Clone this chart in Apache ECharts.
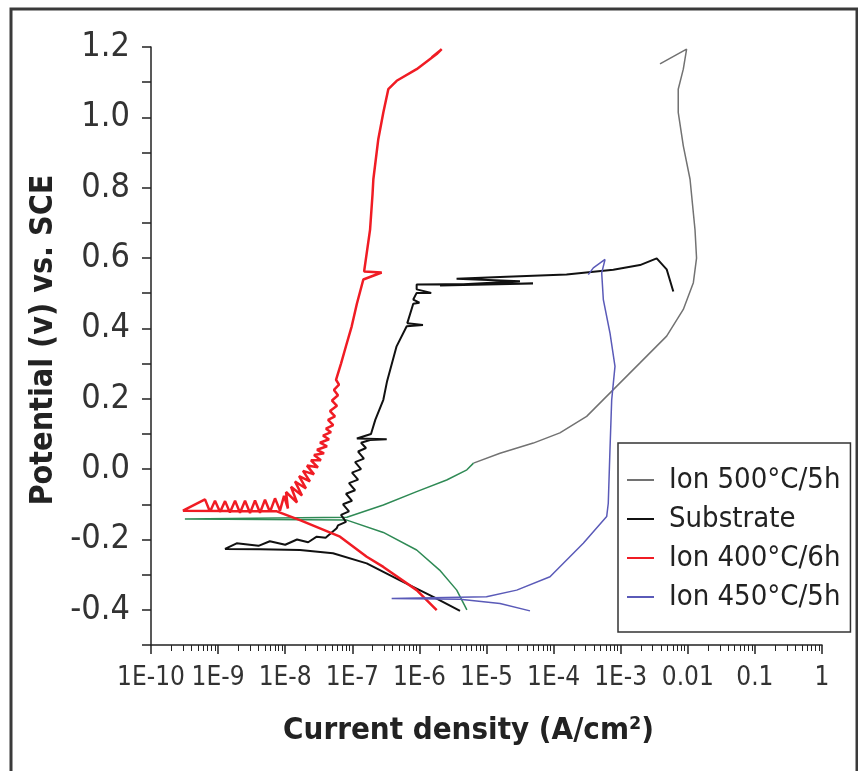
<!DOCTYPE html>
<html>
<head>
<meta charset="utf-8">
<script src="https://cdn.jsdelivr.net/npm/echarts@6/dist/echarts.min.js"></script>
<style>
html,body{margin:0;padding:0;background:#fff;}
#chart{width:858px;height:771px;}
</style>
</head>
<body>
<div id="chart"></div>
<script>
// ---- data: [current density (A/cm2), potential (V vs SCE)] ----
const xTickValues = [1e-10,1e-9,1e-8,1e-7,1e-6,1e-5,1e-4,1e-3,1e-2,1e-1,1];
const xTickLabels = ['1E-10','1E-9','1E-8','1E-7','1E-6','1E-5','1E-4','1E-3','0.01','0.1','1'];
const seriesNames = ['Ion 500°C/5h','Substrate','Ion 400°C/6h','Ion 450°C/5h'];

const ion500Lower = [
  [5.1e-6,-0.40],[3.6e-6,-0.344],[2.0e-6,-0.287],[9.1e-7,-0.23],[2.9e-7,-0.18],
  [8.3e-8,-0.145],[3.2e-10,-0.142],[8.3e-8,-0.137],[2.9e-7,-0.102],[9.1e-7,-0.064],
  [2.55e-6,-0.031],[5.1e-6,-0.002],[6.4e-6,0.017]
];
const ion500Upper = [
  [6.4e-6,0.017],[1.59e-5,0.045],[4.98e-5,0.074],[1.24e-4,0.103],[3.11e-4,0.150],
  [7.76e-4,0.226],[1.94e-3,0.302],[4.84e-3,0.378],[8.57e-3,0.454],[1.21e-2,0.530],
  [1.35e-2,0.600],[1.28e-2,0.681],[1.08e-2,0.824],[8.57e-3,0.919],[7.2e-3,1.014],
  [7.2e-3,1.080],[8.57e-3,1.137],[9.6e-3,1.194],[3.85e-3,1.152]
];
const substrate = [
  [4.03e-6,-0.403],[1.61e-6,-0.363],[5.14e-7,-0.316],[1.64e-7,-0.268],[5.15e-8,-0.239],
  [1.66e-8,-0.230],[4.2e-9,-0.228],[1.27e-9,-0.227],[1.89e-9,-0.211],[4.0e-9,-0.218],
  [5.9e-9,-0.205],[1.0e-8,-0.215],[1.5e-8,-0.200],[2.2e-8,-0.208],[2.95e-8,-0.192],
  [4.0e-8,-0.195],[5.85e-8,-0.168],[6.12e-8,-0.160],[8.06e-8,-0.150],[6.79e-8,-0.130],
  [8.93e-8,-0.120],[7.27e-8,-0.100],[9.9e-8,-0.090],[8.06e-8,-0.070],[1.10e-7,-0.060],
  [8.93e-8,-0.040],[1.22e-7,-0.030],[9.9e-8,-0.010],[1.35e-7,0.000],[1.10e-7,0.020],
  [1.49e-7,0.030],[1.22e-7,0.050],[1.60e-7,0.060],[1.35e-7,0.075],
  [1.84e-7,0.083],[3.26e-7,0.085],[1.17e-7,0.087],[1.9e-7,0.100],
  [2.2e-7,0.140],[2.9e-7,0.197],[3.3e-7,0.250],[4.57e-7,0.349],[6.47e-7,0.406],
  [1.13e-6,0.410],[6.6e-7,0.415],[8.1e-7,0.470],[1.0e-6,0.473],[8.1e-7,0.482],
  [9.1e-7,0.501],[1.5e-6,0.501],[9.1e-7,0.511],[9.1e-7,0.525],[4.93e-5,0.528],
  [2.03e-6,0.522],[3.15e-5,0.534],[3.58e-6,0.541],[1.59e-5,0.546],[1.56e-4,0.553],
  [7.76e-4,0.567],[1.94e-3,0.580],[3.44e-3,0.599],[4.84e-3,0.568],[6.08e-3,0.505]
];
const ion400 = [
  [1.81e-6,-0.401],[9.1e-7,-0.344],[2.9e-7,-0.278],[1.64e-7,-0.249],[6.56e-8,-0.192],
  [1.66e-8,-0.145],[7.5e-9,-0.120],[3.0e-10,-0.118],
  [6.38e-10,-0.086],[7.57e-10,-0.121],[8.99e-10,-0.090],[1.07e-9,-0.122],[1.27e-9,-0.091],
  [1.50e-9,-0.123],[1.79e-9,-0.090],[2.12e-9,-0.124],[2.52e-9,-0.090],[2.99e-9,-0.125],
  [3.55e-9,-0.089],[4.21e-9,-0.124],[5.0e-9,-0.087],[5.93e-9,-0.122],[7.05e-9,-0.083],
  [8.36e-9,-0.118],[9.6e-9,-0.076],[1.10e-8,-0.112],[1.03e-8,-0.065],[1.50e-8,-0.095],
  [1.22e-8,-0.050],[1.78e-8,-0.075],[1.40e-8,-0.035],[2.04e-8,-0.055],[1.61e-8,-0.020],
  [2.34e-8,-0.035],[1.84e-8,-0.005],[2.69e-8,-0.015],[2.11e-8,0.010],[3.08e-8,0.005],
  [2.42e-8,0.025],[3.41e-8,0.025],[2.69e-8,0.040],[3.79e-8,0.045],[2.98e-8,0.055],
  [4.2e-8,0.065],[3.30e-8,0.075],[4.5e-8,0.085],[3.66e-8,0.095],[4.82e-8,0.105],
  [4.05e-8,0.115],[5.2e-8,0.125],[4.35e-8,0.140],[5.52e-8,0.150],[4.65e-8,0.165],
  [5.91e-8,0.180],[4.98e-8,0.195],[6.12e-8,0.210],[5.33e-8,0.225],[6.34e-8,0.240],
  [5.72e-8,0.254],[6.79e-8,0.300],[8.06e-8,0.350],[9.8e-8,0.406],[1.17e-7,0.470],
  [1.46e-7,0.539],[2.74e-7,0.559],[1.5e-7,0.562],[1.84e-7,0.681],[2.0e-7,0.780],
  [2.06e-7,0.824],[2.44e-7,0.938],[2.9e-7,1.014],[3.44e-7,1.080],[4.59e-7,1.104],
  [9.1e-7,1.137],[1.81e-6,1.180],[2.15e-6,1.194],[1.52e-6,1.170]
];
const ion450 = [
  [4.45e-5,-0.403],[1.59e-5,-0.382],[4.03e-6,-0.370],[3.86e-7,-0.368],[1.0e-5,-0.363],
  [2.82e-5,-0.344],[8.84e-5,-0.306],[2.77e-4,-0.211],[6.18e-4,-0.135],[6.53e-4,-0.097],
  [6.92e-4,0.055],[7.34e-4,0.197],[8.22e-4,0.292],[6.92e-4,0.387],[5.51e-4,0.482],
  [5.21e-4,0.558],[5.84e-4,0.596],[3.91e-4,0.572],[3.29e-4,0.553]
];
const xMinorTicks = [];
for (let e = -10; e < 0; e++) { for (let m = 2; m <= 9; m++) { xMinorTicks.push(m * Math.pow(10, e)); } }

const FONT = "'DejaVu Sans Condensed','Liberation Sans',sans-serif";
const colors = {gray:'#727272', green:'#2f8a55', black:'#111111', red:'#f01c24', blue:'#5a5ab8'};

const chart = echarts.init(document.getElementById('chart'), null, {renderer:'canvas'});
const lineSeries = (name, data, color, width, z) => ({
  name, type:'line', data, xAxisIndex:0, yAxisIndex:0, showSymbol:false, symbol:'none',
  smooth:false, animation:false, z, lineStyle:{color, width}, itemStyle:{color}
});
chart.setOption({
  animation:false,
  backgroundColor:'#ffffff',
  graphic:[{type:'rect', silent:true, shape:{x:11, y:9, width:846, height:800},
            style:{fill:'none', stroke:'#3a3a3a', lineWidth:3}}],
  grid:{left:151, right:36, top:47, bottom:126, containLabel:false},
  legend:{
    orient:'vertical', left:618, top:443,
    data:seriesNames.map((n,i)=>({name:n, itemStyle:{color:[colors.gray,colors.black,colors.red,colors.blue][i]}})),
    icon:'rect', itemWidth:27, itemHeight:2, itemGap:5,
    padding:[20,10,18,9], borderColor:'#333', borderWidth:1.5, backgroundColor:'#fff',
    textStyle:{fontFamily:FONT, fontSize:29, color:'#222', lineHeight:34, padding:[0,0,0,10]},
    selectedMode:false
  },
  xAxis:[{
    type:'log', logBase:10, min:1e-10, max:1, position:'bottom',
    name:'Current density (A/cm²)', nameLocation:'middle', nameGap:70,
    nameTextStyle:{fontFamily:FONT, fontSize:31, fontWeight:'bold', color:'#222', padding:[0,36,0,0]},
    axisLine:{show:true, onZero:false, lineStyle:{color:'#222', width:1.5}},
    axisTick:{show:true, inside:false, length:9, customValues:xTickValues, lineStyle:{color:'#222', width:1.5}},
    axisLabel:{fontFamily:FONT, fontSize:26, color:'#333', margin:20, customValues:xTickValues,
      showMinLabel:true, showMaxLabel:true, hideOverlap:false,
      formatter:(v)=>xTickLabels[Math.round(Math.log10(v))+10]},
    splitLine:{show:false}, minorTick:{show:false}
  },{
    type:'log', logBase:10, min:1e-10, max:1, position:'bottom',
    axisLine:{show:false, onZero:false},
    axisTick:{show:true, inside:false, length:6, customValues:xMinorTicks, lineStyle:{color:'#222', width:1}},
    axisLabel:{show:false}, splitLine:{show:false}
  }],
  yAxis:{
    type:'value', min:-0.5, max:1.2, interval:0.1,
    name:'Potential (v) vs. SCE', nameLocation:'middle', nameGap:88, nameRotate:90,
    nameTextStyle:{fontFamily:FONT, fontSize:32, fontWeight:'bold', color:'#222', padding:[0,0,0,12]},
    axisLine:{show:true, onZero:false, lineStyle:{color:'#222', width:1.5}},
    axisTick:{show:true, inside:false, length:9, lineStyle:{color:'#222', width:1.5}},
    axisLabel:{fontFamily:FONT, fontSize:34, color:'#333', margin:21,
      formatter:(v)=>{const k=Math.round(v*10); return (k%2===0 && k>=-4) ? (k/10).toFixed(1) : '';}},
    splitLine:{show:false}
  },
  series:[
    lineSeries(seriesNames[0], ion500Upper, colors.gray, 1.5, 2),
    lineSeries(seriesNames[0], ion500Lower, colors.green, 1.5, 2),
    lineSeries(seriesNames[1], substrate, colors.black, 2, 3),
    lineSeries(seriesNames[2], ion400, colors.red, 2.5, 4),
    lineSeries(seriesNames[3], ion450, colors.blue, 1.5, 5)
  ]
});
</script>
</body>
</html>
